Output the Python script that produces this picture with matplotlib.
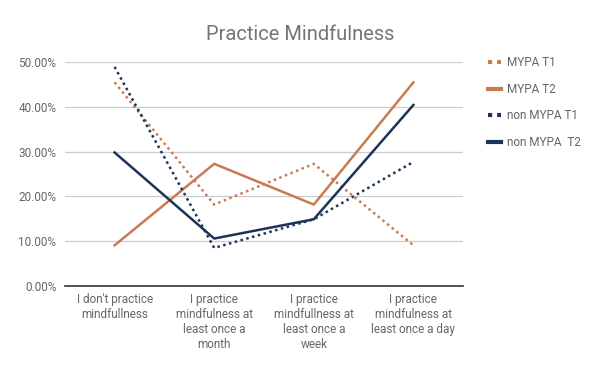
import numpy as np
import matplotlib.pyplot as plt
from matplotlib.ticker import PercentFormatter
from matplotlib.lines import Line2D

plt.rcParams['font.family'] = ['Roboto', 'DejaVu Sans']

categories = ["I don't practice\nmindfullness",
              "I practice\nmindfulness at\nleast once a\nmonth",
              "I practice\nmindfullness at\nleast once a\nweek",
              "I practice\nmindfulness at\nleast once a day"]
mypa_t1 = [45.45, 18.18, 27.27, 9.09]
mypa_t2 = [9.09, 27.27, 18.18, 45.45]
non_t1 = [48.9, 8.5, 14.9, 27.7]
non_t2 = [29.8, 10.6, 14.9, 40.4]

orange = '#c97b4f'
navy = '#1c3457'
dots = (0, (1, 1.4))

fig = plt.figure(figsize=(6, 3.71), dpi=100)
ax = fig.add_axes([0.108, 0.229, 0.664, 0.604])
x = np.arange(len(categories))
ax.plot(x, mypa_t1, color=orange, lw=1.8, linestyle=dots)
ax.plot(x, mypa_t2, color=orange, lw=1.8)
ax.plot(x, non_t1, color=navy, lw=1.8, linestyle=dots)
ax.plot(x, non_t2, color=navy, lw=1.8)

ax.set_xlim(-0.5, 3.5)
ax.set_ylim(0, 50)
ax.set_yticks([0, 10, 20, 30, 40, 50])
ax.yaxis.set_major_formatter(PercentFormatter(decimals=2))
ax.set_xticks(x)
ax.set_xticklabels(categories, fontsize=8.5, color='#666666', linespacing=1.2)
ax.tick_params(axis='y', labelsize=8.5, labelcolor='#666666', length=0, pad=6)
ax.tick_params(axis='x', length=0, pad=5)
ax.grid(axis='y', color='#cccccc', lw=0.9)
ax.set_axisbelow(True)
for s in ['top', 'right', 'left']:
    ax.spines[s].set_visible(False)
ax.spines['bottom'].set_color('#333333')
ax.spines['bottom'].set_linewidth(1.2)

fig.text(0.5, 0.893, 'Practice Mindfulness', ha='center', fontsize=14.5, color='#757575')

handles = [Line2D([], [], color=orange, lw=3, linestyle=(0, (1, 1.2))),
           Line2D([], [], color=orange, lw=3),
           Line2D([], [], color=navy, lw=3, linestyle=(0, (1, 1.2))),
           Line2D([], [], color=navy, lw=3)]
labels = ['MYPA T1', 'MYPA T2', 'non MYPA T1', 'non MYPA  T2']
leg = fig.legend(handles, labels, loc='upper left', bbox_to_anchor=(0.795, 0.877),
                 frameon=False, fontsize=8.5, handlelength=1.1, handletextpad=0.5,
                 labelspacing=1.15)
for t in leg.get_texts():
    t.set_color('#666666')

fig.savefig('out.png', dpi=100)
